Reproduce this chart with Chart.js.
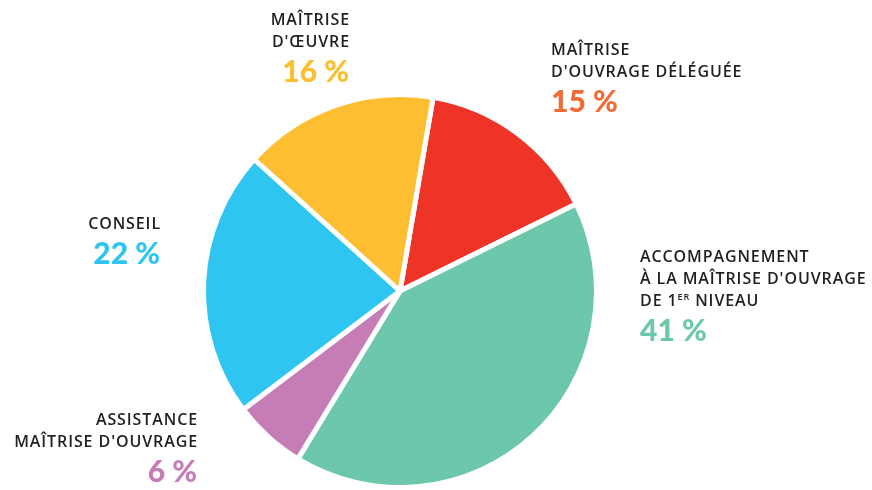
<!DOCTYPE html>
<html>
<head>
<meta charset="utf-8">
<script src="https://cdn.jsdelivr.net/npm/chart.js@4"></script>
<style>
  html, body { margin: 0; padding: 0; background: #fff; }
  #wrap { width: 872px; height: 490px; }
</style>
</head>
<body>
<div id="wrap"><canvas id="chart"></canvas></div>
<script>
// data, clockwise from the top
const categories = [
  'MAÎTRISE D\'OUVRAGE DÉLÉGUÉE',
  'ACCOMPAGNEMENT À LA MAÎTRISE D\'OUVRAGE DE 1ER NIVEAU',
  'ASSISTANCE MAÎTRISE D\'OUVRAGE',
  'CONSEIL',
  'MAÎTRISE D\'ŒUVRE'
];
const shares = [15, 41, 6, 22, 16];
const sliceColors = ['#ee3427', '#6dc7ac', '#c67db5', '#2ec5f1', '#fdbf31'];
const pctColors = ['#f26a35', '#6dc7ac', '#c67db5', '#2ec5f1', '#fbbf2f'];

// label lines drawn beside each slice ('^' marks superscript part)
const labelLines = [
  ['MAÎTRISE', 'D\'OUVRAGE DÉLÉGUÉE'],
  ['ACCOMPAGNEMENT', 'À LA MAÎTRISE D\'OUVRAGE', 'DE 1^ER^ NIVEAU'],
  ['ASSISTANCE', 'MAÎTRISE D\'OUVRAGE'],
  ['CONSEIL'],
  ['MAÎTRISE', 'D\'ŒUVRE']
];

// where each label block sits: anchor x, top baseline y, alignment
const labelPos = [
  { x: 551, y: 55, align: 'left' },
  { x: 640, y: 262, align: 'left' },
  { x: 198, y: 425, align: 'right' },
  { x: 161, y: 229, align: 'right' },
  { x: 350, y: 25, align: 'right' }
];

const textFont = '"Open Sans", "Lato", sans-serif';
const pctFont = '"Lato", sans-serif';

function drawLine(ctx, str, x, y, align) {
  const parts = str.split('^');
  const big = '600 16px ' + textFont, small = '600 9px ' + textFont;
  ctx.letterSpacing = '0.9px';
  let total = 0;
  parts.forEach((p, i) => { ctx.font = i % 2 ? small : big; total += ctx.measureText(p).width; });
  let cx = align === 'right' ? x - total : x;
  ctx.textAlign = 'left';
  parts.forEach((p, i) => {
    ctx.font = i % 2 ? small : big;
    ctx.fillText(p, cx, i % 2 ? y - 6 : y);
    cx += ctx.measureText(p).width;
  });
  ctx.letterSpacing = '0px';
}

const labelPlugin = {
  id: 'sliceLabels',
  afterDraw(chart) {
    const ctx = chart.ctx;
    ctx.save();
    ctx.textBaseline = 'alphabetic';
    labelLines.forEach((lines, i) => {
      const pos = labelPos[i];
      ctx.fillStyle = '#231f20';
      let y = pos.y;
      lines.forEach(l => { drawLine(ctx, l, pos.x, y, pos.align); y += 22; });
      ctx.font = '900 30px ' + pctFont;
      ctx.fillStyle = pctColors[i];
      ctx.textAlign = pos.align;
      ctx.fillText(shares[i] + ' %', pos.align === 'right' ? pos.x - 1 : pos.x, y + 13);
    });
    ctx.restore();
  }
};

new Chart(document.getElementById('chart').getContext('2d'), {
  type: 'pie',
  data: {
    labels: categories,
    datasets: [{
      data: shares,
      backgroundColor: sliceColors,
      borderColor: '#ffffff',
      borderWidth: 5
    }]
  },
  options: {
    responsive: true,
    maintainAspectRatio: false,
    animation: false,
    rotation: 9.7,
    layout: { padding: { top: 92, bottom: -6, left: 198, right: 270 } },
    plugins: {
      legend: { display: false },
      tooltip: { enabled: false }
    }
  },
  plugins: [labelPlugin]
});
</script>
</body>
</html>
